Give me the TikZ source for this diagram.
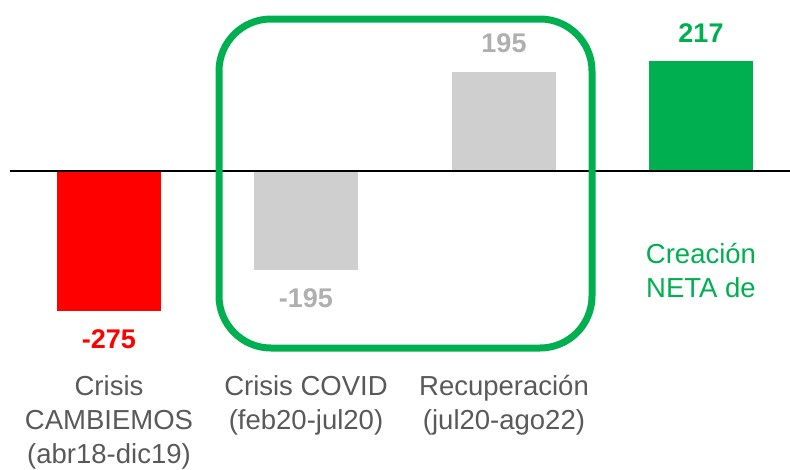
\documentclass[tikz,border=0pt]{standalone}
\usepackage{fontspec}
\setmainfont{Liberation Sans}
\usepackage{xcolor}
\usepackage{tikz}
\usetikzlibrary{positioning,calc}

\definecolor{barred}{HTML}{FF0000}
\definecolor{bargray}{HTML}{D0CFD0}
\definecolor{valgray}{HTML}{AFAFAF}
\definecolor{bargreen}{HTML}{00AF50}
\definecolor{catgray}{HTML}{595959}

\begin{document}
\begin{tikzpicture}[x=1pt, y=-1pt,
    value/.style={anchor=base, font=\fontsize{27}{30}\selectfont\bfseries},
    category/.style={anchor=base, align=center, text=catgray, font=\fontsize{27.5}{34}\selectfont}]
    \useasboundingbox (0,0) rectangle (790,469);

    % Bars
    \fill[barred] (57,171) rectangle (161,311);
    \fill[bargray] (254,171) rectangle (358,270);
    \fill[bargray] (452,171) rectangle (556,72);
    \fill[bargreen] (649,171) rectangle (753,61);

    % Axis
    \coordinate (axisL) at (10,171);
    \coordinate (axisR) at (790,171);
    \draw[line width=1.5] (axisL) -- (axisR);

    % Values
    \node[value, text=barred] (vCamb) at (109,348) {-275};
    \node[value, text=valgray] (vCovid) at (306,307) {-195};
    \node[value, text=valgray] (vRecup) at (504,52) {195};
    \node[value, text=bargreen] (vNeta) at (701,42) {217};

    % Categories (anchored at the last line)
    \node[category] (cCamb) at (109,463) {Crisis\\CAMBIEMOS\\(abr18-dic19)};
    \node[category] (cCovid) at (306,429) {Crisis COVID\\(feb20-jul20)};
    \node[category] (cRecup) at (504,429) {Recuperación\\(jul20-ago22)};
    \node[category, text=bargreen] (cNeta) at (701,297) {Creación\\NETA de};

    % Highlight box
    \draw[bargreen, line width=7, rounded corners=52] (219,19) rectangle (592,348);
\end{tikzpicture}
\end{document}
